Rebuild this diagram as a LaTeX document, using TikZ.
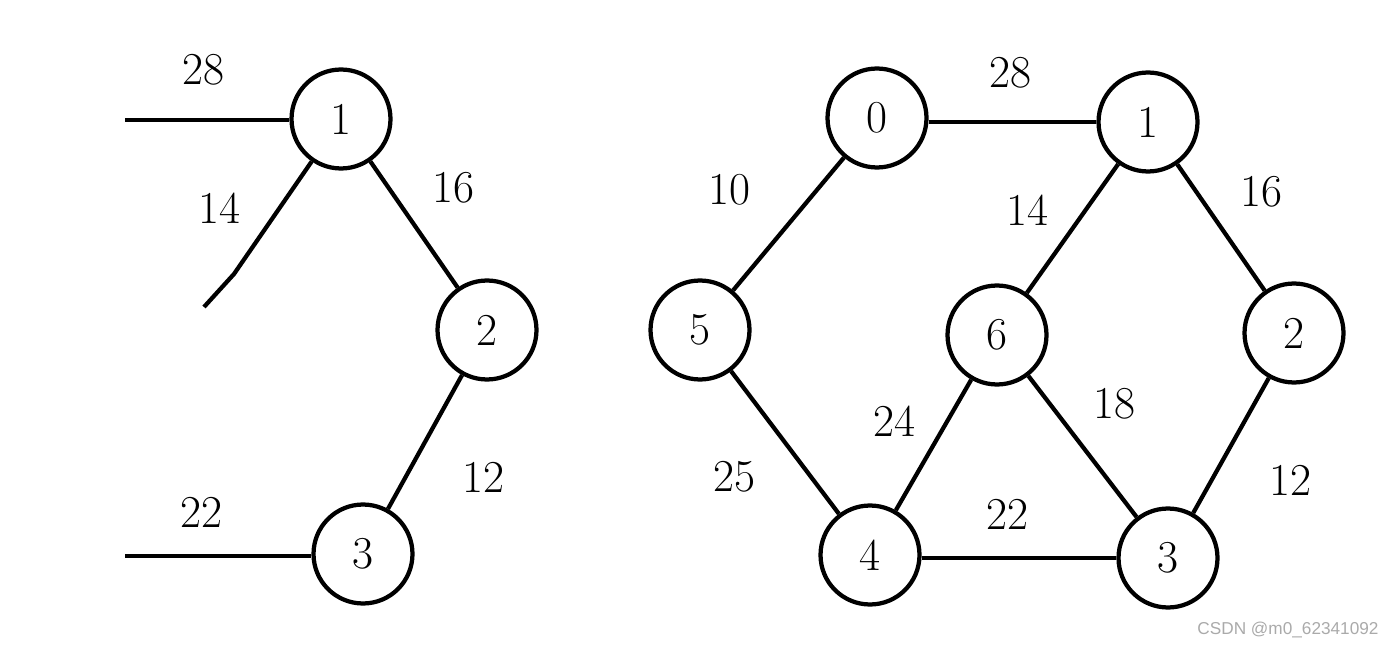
\documentclass[tikz,border=0pt]{standalone}
\usepackage{fontspec}
\usepackage{tikz}
\usetikzlibrary{positioning,calc}
\newfontfamily\markfont{Liberation Sans}
\definecolor{markgray}{RGB}{170,170,170}
\tikzset{
    vertex/.style={circle, draw=black, line width=0.085cm, minimum size=1.98cm, inner sep=0pt, font=\fontsize{26}{30}\selectfont},
    edge/.style={line width=0.085cm, black},
    weight/.style={font=\fontsize{26}{30}\selectfont},
}
\begin{document}
\begin{tikzpicture}[x=0.02cm, y=-0.02cm]
    \useasboundingbox (0,0) rectangle (1392,648);
    % left part
    \node[vertex] (a1) at (341,119) {1};
    \node[vertex] (a2) at (487,330) {2};
    \node[vertex] (a3) at (363,554) {3};
    \coordinate (a0) at (125,120);
    \coordinate (a4) at (125,556);
    \coordinate (a6) at (234,274);
    \coordinate (a6end) at (204,307);
    \draw[edge] (a0) -- (a0 -| a1.west);
    \draw[edge] (a1) -- (a2);
    \draw[edge] (a2) -- (a3);
    \draw[edge] (a4) -- (a4 -| a3.west);
    \draw[edge] (a1) -- (a6) -- (a6end);
    \node[weight] (w01) at (203,70) {28};
    \node[weight] (w16) at (219,208) {14};
    \node[weight] (w12) at (453,188) {16};
    \node[weight] (w23) at (483,477) {12};
    \node[weight] (w34) at (201,512) {22};
    % right part
    \node[vertex] (b0) at (877,118) {0};
    \node[vertex] (b1) at (1148,122) {1};
    \node[vertex] (b2) at (1294,333) {2};
    \node[vertex] (b3) at (1168,558) {3};
    \node[vertex] (b4) at (870,555) {4};
    \node[vertex] (b5) at (700,330) {5};
    \node[vertex] (b6) at (997,335) {6};
    \draw[edge] (b0.east |- b1) -- (b1);
    \draw[edge] (b0) -- (b5);
    \draw[edge] (b1) -- (b6);
    \draw[edge] (b1) -- (b2);
    \draw[edge] (b2) -- (b3);
    \draw[edge] (b6) -- (b3);
    \draw[edge] (b6) -- (b4);
    \draw[edge] (b5) -- (b4);
    \draw[edge] (b4.east |- b3) -- (b3);
    \node[weight] (v01) at (1010,73) {28};
    \node[weight] (v05) at (729,190) {10};
    \node[weight] (v16) at (1027,210) {14};
    \node[weight] (v12) at (1261,192) {16};
    \node[weight] (v46) at (894,421) {24};
    \node[weight] (v36) at (1114,404) {18};
    \node[weight] (v45) at (734,477) {25};
    \node[weight] (v34) at (1007,514) {22};
    \node[weight] (v23) at (1290,480) {12};
    \node[text=markgray, font=\markfont\fontsize{9.8}{12}\selectfont] (mark) at (1288,630) {CSDN @m0\_62341092};
\end{tikzpicture}
\end{document}
